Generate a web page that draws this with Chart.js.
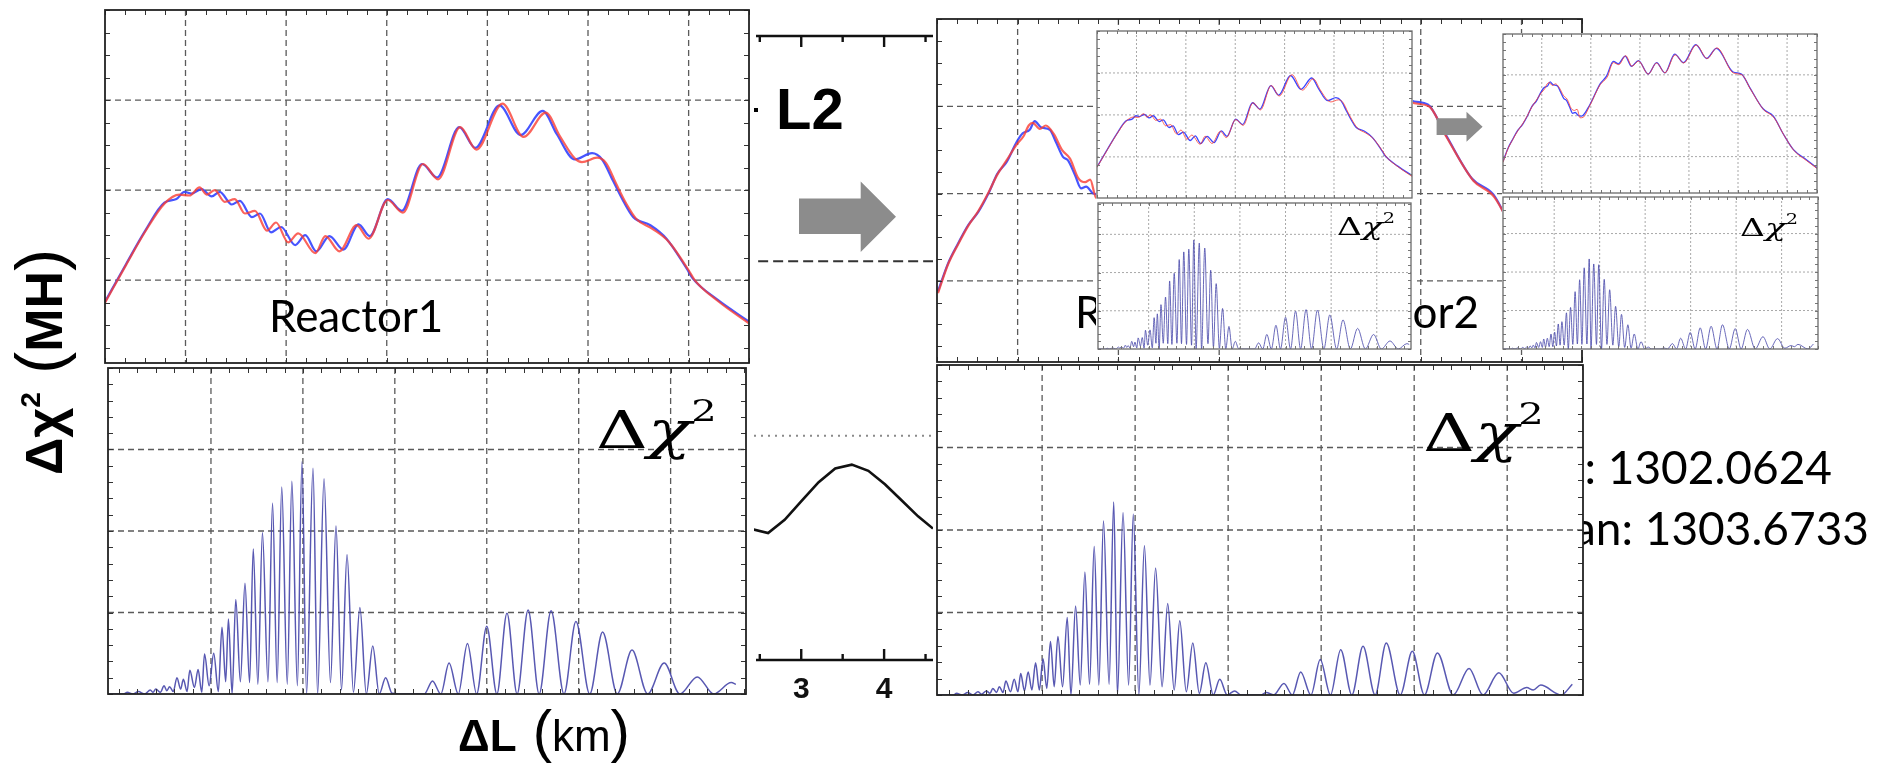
<!DOCTYPE html>
<html>
<head>
<meta charset="utf-8">
<script src="https://cdn.jsdelivr.net/npm/chart.js@4.4.1/dist/chart.umd.min.js"></script>
<style>
  body { margin: 0; background: #fff; }
  #stage { position: relative; width: 1890px; height: 765px; overflow: hidden; background: #fff; }
  canvas.panel { position: absolute; }
  .inset-bg { position: absolute; background: #fff; }
  svg.layer { position: absolute; left: 0; top: 0; width: 1890px; height: 765px; pointer-events: none; }
</style>
</head>
<body>
<div id="stage"></div>
<script>
// Reactor 1 spectra (blue / red hierarchy curves)
const reactor1Blue = [[-0.80,0.76],[-0.59,1.18],[-0.40,1.55],[-0.21,1.86],[-0.09,1.90],[-0.01,1.98],[0.06,1.96],[0.16,2.01],[0.26,1.93],[0.34,1.98],[0.46,1.84],[0.54,1.88],[0.66,1.70],[0.74,1.74],[0.85,1.53],[0.95,1.59],[1.09,1.39],[1.19,1.50],[1.30,1.32],[1.43,1.49],[1.57,1.34],[1.72,1.62],[1.83,1.49],[2.01,1.90],[2.15,1.77],[2.35,2.29],[2.50,2.14],[2.72,2.70],[2.88,2.47],[3.12,2.94],[3.33,2.61],[3.55,2.88],[3.69,2.62],[3.87,2.34],[4.04,2.41],[4.14,2.34],[4.25,2.10],[4.35,1.88],[4.45,1.70],[4.62,1.61],[4.78,1.46],[4.98,1.13],[5.04,1.02],[5.29,0.78],[5.60,0.54]];
const reactor1Red = [[-0.80,0.75],[-0.59,1.17],[-0.40,1.54],[-0.21,1.85],[-0.06,1.95],[0.04,1.94],[0.14,2.03],[0.21,1.95],[0.29,2.00],[0.39,1.87],[0.49,1.90],[0.59,1.74],[0.69,1.77],[0.81,1.55],[0.90,1.64],[1.02,1.42],[1.12,1.52],[1.29,1.30],[1.39,1.49],[1.53,1.32],[1.70,1.61],[1.82,1.46],[2.01,1.89],[2.16,1.75],[2.36,2.29],[2.51,2.12],[2.73,2.70],[2.89,2.45],[3.15,2.96],[3.36,2.59],[3.58,2.86],[3.72,2.60],[3.87,2.35],[3.94,2.31],[4.09,2.36],[4.18,2.30],[4.28,2.07],[4.38,1.85],[4.48,1.68],[4.64,1.57],[4.80,1.43],[5.00,1.11],[5.06,1.00],[5.30,0.76],[5.60,0.52]];

// Reactor 2 spectra
const reactor2Blue = [[-0.79,0.88],[-0.69,1.20],[-0.59,1.43],[-0.49,1.64],[-0.39,1.79],[-0.29,2.00],[-0.20,2.23],[-0.11,2.36],[-0.01,2.59],[0.05,2.69],[0.12,2.73],[0.17,2.83],[0.23,2.76],[0.32,2.73],[0.38,2.59],[0.45,2.42],[0.50,2.38],[0.57,2.21],[0.63,2.06],[0.68,2.08],[0.75,2.00],[0.81,1.99],[0.98,2.27],[1.19,2.78],[1.32,2.97],[1.46,3.33],[1.56,3.27],[1.70,3.46],[1.83,3.21],[1.97,3.35],[2.17,3.02],[2.34,3.30],[2.51,3.05],[2.71,3.51],[2.89,3.30],[3.14,3.74],[3.36,3.40],[3.56,3.65],[3.90,3.07],[4.07,3.02],[4.24,2.69],[4.51,2.17],[4.72,1.99],[4.92,1.56],[5.13,1.17],[5.40,0.92],[5.61,0.72]];
const reactor2Red = [[-0.79,0.86],[-0.69,1.19],[-0.59,1.42],[-0.49,1.63],[-0.39,1.80],[-0.29,2.01],[-0.20,2.22],[-0.11,2.38],[-0.01,2.56],[0.06,2.66],[0.11,2.78],[0.15,2.81],[0.22,2.74],[0.28,2.78],[0.36,2.68],[0.44,2.50],[0.52,2.40],[0.60,2.18],[0.67,2.13],[0.72,2.16],[0.78,1.95],[0.84,1.96],[0.98,2.25],[1.19,2.76],[1.33,2.94],[1.46,3.30],[1.57,3.25],[1.71,3.47],[1.84,3.21],[1.97,3.34],[2.17,3.02],[2.34,3.29],[2.51,3.05],[2.72,3.49],[2.89,3.29],[3.15,3.73],[3.37,3.40],[3.57,3.66],[3.90,3.05],[4.08,3.00],[4.25,2.66],[4.52,2.15],[4.73,1.96],[4.93,1.54],[5.14,1.15],[5.40,0.90],[5.61,0.71]];

// Delta chi^2 versus shift, reactor 1 and reactor 2
const reactor1Dchi = [[-0.12,0.00],[0.05,0.00],[0.09,0.02],[0.15,0.00],[0.21,0.03],[0.28,0.00],[0.34,0.05],[0.37,0.02],[0.40,0.06],[0.45,0.02],[0.49,0.10],[0.52,0.04],[0.55,0.09],[0.59,0.03],[0.63,0.20],[0.67,0.06],[0.70,0.18],[0.74,0.03],[0.77,0.29],[0.82,0.08],[0.86,0.30],[0.90,0.02],[0.93,0.49],[0.98,0.10],[1.03,0.50],[1.08,0.03],[1.12,0.82],[1.16,0.15],[1.19,0.92],[1.23,0.00],[1.27,1.16],[1.32,0.15],[1.37,1.36],[1.42,0.14],[1.46,1.78],[1.51,0.12],[1.56,1.98],[1.62,0.15],[1.67,2.34],[1.72,0.14],[1.77,2.54],[1.83,0.12],[1.88,2.61],[1.94,0.10],[1.99,2.85],[2.04,0.00],[2.11,2.77],[2.16,0.00],[2.23,2.64],[2.30,0.14],[2.36,2.06],[2.42,0.05],[2.48,1.71],[2.55,0.02],[2.62,1.06],[2.69,0.00],[2.76,0.59],[2.83,0.00],[2.90,0.20],[2.97,0.01],[3.10,0.00],[3.32,0.00],[3.41,0.16],[3.50,0.00],[3.59,0.38],[3.69,0.00],[3.79,0.62],[3.89,0.00],[4.00,0.83],[4.11,0.00],[4.22,0.99],[4.33,0.00],[4.45,1.03],[4.57,0.00],[4.70,1.02],[4.84,0.00],[4.97,0.89],[5.12,0.00],[5.26,0.76],[5.42,0.00],[5.58,0.54],[5.75,0.00],[5.93,0.38],[6.10,0.00],[6.29,0.21],[6.47,0.00],[6.66,0.14],[6.71,0.12]];
const reactor2Dchi = [[-0.13,0.00],[0.05,0.00],[0.08,0.02],[0.14,0.00],[0.20,0.03],[0.26,0.00],[0.31,0.04],[0.35,0.01],[0.40,0.05],[0.44,0.02],[0.47,0.08],[0.51,0.03],[0.54,0.10],[0.58,0.03],[0.61,0.17],[0.66,0.04],[0.70,0.19],[0.74,0.04],[0.77,0.26],[0.81,0.05],[0.85,0.28],[0.89,0.06],[0.93,0.39],[0.97,0.06],[1.01,0.44],[1.05,0.08],[1.09,0.65],[1.13,0.10],[1.17,0.71],[1.22,0.10],[1.27,0.94],[1.31,0.00],[1.36,1.08],[1.41,0.12],[1.46,1.49],[1.51,0.13],[1.56,1.80],[1.61,0.12],[1.66,2.11],[1.72,0.13],[1.77,2.34],[1.81,0.00],[1.87,2.21],[1.93,0.12],[1.98,2.19],[2.04,0.00],[2.10,1.81],[2.16,0.12],[2.22,1.54],[2.29,0.10],[2.35,1.11],[2.42,0.06],[2.48,0.90],[2.55,0.04],[2.62,0.63],[2.69,0.02],[2.76,0.39],[2.84,0.00],[2.91,0.19],[2.99,0.00],[3.07,0.05],[3.14,0.00],[3.35,0.00],[3.41,0.03],[3.49,0.00],[3.60,0.14],[3.69,0.00],[3.78,0.28],[3.89,0.00],[3.99,0.43],[4.10,0.00],[4.21,0.55],[4.33,0.00],[4.45,0.59],[4.58,0.00],[4.70,0.63],[4.85,0.00],[4.98,0.53],[5.11,0.00],[5.25,0.51],[5.42,0.00],[5.59,0.32],[5.74,0.00],[5.91,0.27],[6.07,0.02],[6.21,0.09],[6.28,0.06],[6.36,0.12],[6.58,0.00],[6.70,0.13]];

// Middle strip: chi^2 scan around L2 and its reference levels
const midCurveX = [2.42, 2.60, 2.80, 3.01, 3.21, 3.41, 3.61, 3.81, 4.01, 4.21, 4.41, 4.59];
const midCurveY = [4.47, 4.35, 4.80, 5.47, 6.09, 6.56, 6.69, 6.48, 6.02, 5.47, 4.92, 4.50];
const midDottedLevel = 7.68;
const midDashedLevel = 1.22;
const midTicks = [2.5, 3, 3.5, 4, 4.5];
const midTickLabels = [3, 4];

// grid positions
const specGridX = [0, 1, 2, 3, 4, 5];
const specGridY = [1, 2, 3];
const dchiGridX = [1, 2, 3, 4, 5, 6];
const dchiGridY = [1, 2, 3];

const stage = document.getElementById('stage');
const PAD = 4;

const RED = 'rgba(250,60,50,0.8)';
const BLUE = 'rgba(55,70,255,0.92)';
const DCHI = 'rgba(70,70,170,0.9)';

function stepsIn(min, max, step) {
  const out = [];
  for (let v = Math.ceil(min / step - 1e-6) * step; v <= max + 1e-9; v += step) out.push(v);
  return out;
}

// grid under the curves, border + inward minor ticks on top
const framePlugin = {
  id: 'frame',
  beforeDatasetsDraw(chart, args, o) {
    const { ctx, chartArea: a, scales: { x, y } } = chart;
    ctx.save();
    if (o.fill) { ctx.fillStyle = '#fff'; ctx.fillRect(a.left, a.top, a.width, a.height); }
    if (o.xGrid || o.yGrid) {
      ctx.strokeStyle = o.gridColor; ctx.lineWidth = o.gridWidth; ctx.setLineDash(o.gridDash);
      ctx.beginPath();
      (o.xGrid || []).forEach(v => { const p = x.getPixelForValue(v); ctx.moveTo(p, a.top); ctx.lineTo(p, a.bottom); });
      (o.yGrid || []).forEach(v => { const p = y.getPixelForValue(v); ctx.moveTo(a.left, p); ctx.lineTo(a.right, p); });
      ctx.stroke();
    }
    ctx.restore();
  },
  afterDatasetsDraw(chart, args, o) {
    const { ctx, chartArea: a, scales: { x, y } } = chart;
    ctx.save();
    ctx.setLineDash([]);
    if (o.xMinor) {
      ctx.strokeStyle = o.tickColor; ctx.lineWidth = 1;
      ctx.beginPath();
      stepsIn(x.min, x.max, o.xMinor).forEach(v => {
        const p = Math.round(x.getPixelForValue(v)) + 0.5;
        ctx.moveTo(p, a.top); ctx.lineTo(p, a.top + o.tickLen);
        ctx.moveTo(p, a.bottom); ctx.lineTo(p, a.bottom - o.tickLen);
      });
      stepsIn(y.min, y.max, o.yMinor).forEach(v => {
        const p = Math.round(y.getPixelForValue(v)) + 0.5;
        ctx.moveTo(a.left, p); ctx.lineTo(a.left + o.tickLen, p);
        ctx.moveTo(a.right, p); ctx.lineTo(a.right - o.tickLen, p);
      });
      ctx.stroke();
    }
    if (o.border) {
      ctx.strokeStyle = o.border; ctx.lineWidth = o.borderWidth;
      ctx.strokeRect(a.left, a.top, a.width, a.height);
    }
    ctx.restore();
  }
};

// axis strips of the middle chi^2 scan
const stripAxisPlugin = {
  id: 'stripAxis',
  afterDatasetsDraw(chart, args, o) {
    if (!o.side) return;
    const { ctx, chartArea: a, scales: { x } } = chart;
    const yLine = o.side === 'top' ? a.top : a.bottom;
    const dir = o.side === 'top' ? 1 : -1;
    ctx.save();
    ctx.strokeStyle = '#111';
    ctx.beginPath();
    ctx.moveTo(a.left + 2, yLine); ctx.lineTo(a.right, yLine);
    midTicks.forEach(v => {
      const p = x.getPixelForValue(v);
      const len = Number.isInteger(v) ? 11 : 6;
      ctx.moveTo(p, yLine); ctx.lineTo(p, yLine + dir * len);
    });
    ctx.lineWidth = 2.4;
    ctx.stroke();
    if (o.labels) {
      ctx.fillStyle = '#111';
      ctx.font = 'bold 30px "Liberation Sans", Arial, sans-serif';
      ctx.textAlign = 'center'; ctx.textBaseline = 'alphabetic';
      midTickLabels.forEach(v => ctx.fillText(String(v), x.getPixelForValue(v), yLine + 38));
    }
    ctx.restore();
  }
};

function pts(arr) { return arr.map(p => ({ x: p[0], y: p[1] })); }

function panel(cfg) {
  const padB = cfg.padBottom || PAD;
  const c = document.createElement('canvas');
  c.className = 'panel';
  c.width = Math.round(cfg.w + 2 * PAD);
  c.height = Math.round(cfg.h + PAD + padB);
  c.style.left = (cfg.x - PAD) + 'px';
  c.style.top = (cfg.y - PAD) + 'px';
  c.style.width = c.width + 'px';
  c.style.height = c.height + 'px';
  c.style.zIndex = cfg.z;
  stage.appendChild(c);
  new Chart(c.getContext('2d'), {
    type: 'line',
    data: { datasets: cfg.series },
    options: {
      responsive: false,
      animation: false,
      events: [],
      layout: { padding: { left: PAD, right: PAD, top: PAD, bottom: padB } },
      elements: { point: { radius: 0 } },
      plugins: {
        legend: { display: false },
        tooltip: { enabled: false },
        frame: cfg.frame || {},
        stripAxis: cfg.strip || {}
      },
      scales: {
        x: { type: 'linear', display: false, min: cfg.xr[0], max: cfg.xr[1] },
        y: { type: 'linear', display: false, min: cfg.yr[0], max: cfg.yr[1] }
      }
    },
    plugins: [framePlugin, stripAxisPlugin]
  });
}

function spectrum(red, blue, redWidth, blueWidth, blueColor) {
  return [
    { data: pts(red), borderColor: RED, borderWidth: redWidth, cubicInterpolationMode: 'monotone' },
    { data: pts(blue), borderColor: blueColor || BLUE, borderWidth: blueWidth, cubicInterpolationMode: 'monotone' }
  ];
}
function dchi(arr, width) {
  return [{ data: pts(arr), borderColor: DCHI, borderWidth: width, cubicInterpolationMode: 'monotone' }];
}

const mainFrame = (gx, gy, yMinor) => ({
  fill: true, xGrid: gx, yGrid: gy, gridColor: '#5a5a5a', gridWidth: 1.3, gridDash: [6, 4],
  xMinor: 0.2, yMinor: yMinor, tickLen: 5, tickColor: '#333', border: '#222', borderWidth: 1.8
});
const insetFrame = (gx, gy) => ({
  fill: true, xGrid: gx, yGrid: gy, gridColor: '#a8a8a8', gridWidth: 1, gridDash: [2, 2],
  xMinor: 0.2, yMinor: 0.2, tickLen: 3, tickColor: '#777', border: '#6a6a6a', borderWidth: 1.3
});

// left column
panel({ x: 105, y: 10, w: 644, h: 353, z: 1, xr: [-0.80, 5.60], yr: [0.08, 4.0],
  series: spectrum(reactor1Red, reactor1Blue, 2.2, 2.2), frame: mainFrame(specGridX, specGridY, 0.25) });
panel({ x: 108, y: 368, w: 638, h: 326, z: 1, xr: [-0.12, 6.82], yr: [0, 4],
  series: dchi(reactor1Dchi, 1.5), frame: mainFrame(dchiGridX, dchiGridY, 0.2) });

// middle strip
panel({ x: 754, y: 36, w: 179, h: 324, z: 1, xr: [2.43, 4.59], yr: [0, 4],
  series: [{ data: [{ x: 2.48, y: midDashedLevel }, { x: 4.59, y: midDashedLevel }], borderColor: '#333', borderWidth: 2, borderDash: [10, 5] }],
  strip: { side: 'top' } });
panel({ x: 754, y: 368, w: 179, h: 291.5, z: 1, padBottom: 48, xr: [2.43, 4.59], yr: [0, 10],
  series: [
    { data: [{ x: 2.43, y: midDottedLevel }, { x: 4.59, y: midDottedLevel }], borderColor: '#8a8a8a', borderWidth: 2, borderDash: [2, 5] },
    { data: midCurveX.map((v, i) => ({ x: v, y: midCurveY[i] })), borderColor: '#111', borderWidth: 2.6, tension: 0 }
  ],
  strip: { side: 'bottom', labels: true } });

// right column
panel({ x: 937, y: 19, w: 645, h: 343, z: 1, xr: [-0.80, 5.60], yr: [0.07, 4.0],
  series: spectrum(reactor2Red, reactor2Blue, 2.2, 2.2), frame: mainFrame(specGridX, specGridY, 0.25) });

// serif "Δχ²" label, stretched horizontally like the math font
function dchiLabel(x, y, size, twoDy) {
  return `<text transform="translate(${x},${y}) scale(1.38,1)" font-family="'DejaVu Serif', serif" font-size="${size}" fill="#000">` +
    `Δ<tspan font-style="italic">χ</tspan>` +
    `<tspan dy="${twoDy}" font-size="${Math.round(size * 0.56)}">2</tspan></text>`;
}

const svgA = document.createElementNS('http://www.w3.org/2000/svg', 'svg');
svgA.setAttribute('class', 'layer');
svgA.style.zIndex = 2;
svgA.innerHTML = `
  <text x="269" y="332" font-family="Lato, 'Open Sans', sans-serif" font-size="44" fill="#000">Reactor1</text>
  <text x="1075" y="328" font-family="Lato, 'Open Sans', sans-serif" font-size="44" fill="#000">Reactor1 +</text>
  <text x="1479" y="328" text-anchor="end" font-family="Lato, 'Open Sans', sans-serif" font-size="44" fill="#000">Reactor2</text>
  <text x="1832" y="484" text-anchor="end" font-family="Lato, 'Open Sans', sans-serif" font-size="46" fill="#000">Best: 1302.0624</text>
  <text x="1869" y="545" text-anchor="end" font-family="Lato, 'Open Sans', sans-serif" font-size="46" fill="#000">Mean: 1303.6733</text>
  <rect x="754" y="108" width="4" height="4" fill="#000"/>
  <text x="776" y="129" font-family="'Liberation Sans', Arial, sans-serif" font-weight="bold" font-size="58" fill="#000">L2</text>
  <polygon points="799,198.5 860.7,198.5 860.7,181.5 896,216.8 860.7,252 860.7,234 799,234" fill="#8c8c8c"/>
  ${dchiLabel(596, 448, 52, -27)}
  <text x="458" y="751" font-family="'Liberation Sans', Arial, sans-serif" fill="#000"><tspan font-weight="bold" font-size="44">ΔL</tspan><tspan font-size="58"> (</tspan><tspan font-size="44">km</tspan><tspan font-size="58">)</tspan></text>
  <text transform="translate(62,362) rotate(-90)" text-anchor="middle" font-family="'Liberation Sans', Arial, sans-serif" fill="#000"><tspan font-weight="bold" font-size="52">Δχ</tspan><tspan font-weight="bold" font-size="28" dy="-22">2</tspan><tspan font-size="66" dy="22"> (</tspan><tspan font-weight="bold" font-size="52">MH</tspan><tspan font-size="66">)</tspan></text>
`;
stage.appendChild(svgA);

panel({ x: 937, y: 365, w: 646, h: 330, z: 3, xr: [-0.13, 6.815], yr: [0, 4],
  series: dchi(reactor2Dchi, 1.5), frame: mainFrame(dchiGridX, dchiGridY, 0.2) });

// insets
function insetBg(x, y, w, h) {
  const d = document.createElement('div');
  d.className = 'inset-bg';
  Object.assign(d.style, { left: x + 'px', top: y + 'px', width: w + 'px', height: h + 'px', zIndex: 5 });
  stage.appendChild(d);
}
insetBg(1096, 30, 317, 320);
insetBg(1502, 33, 317, 317);

const INSET_BLUE = 'rgba(60,70,255,1)';
panel({ x: 1097, y: 31, w: 315, h: 167, z: 5, xr: [-0.80, 5.58], yr: [0.02, 4.0],
  series: spectrum(reactor1Red, reactor1Blue, 1.0, 1.3, INSET_BLUE), frame: insetFrame(specGridX, specGridY) });
panel({ x: 1098, y: 203, w: 313, h: 146, z: 5, xr: [-0.11, 6.75], yr: [0, 3.82],
  series: dchi(reactor1Dchi, 0.9), frame: insetFrame(dchiGridX, dchiGridY) });
panel({ x: 1503, y: 34, w: 314, h: 159, z: 5, xr: [-0.79, 5.61], yr: [0.11, 4.0],
  series: spectrum(reactor2Red, reactor2Blue, 1.0, 1.3, INSET_BLUE), frame: insetFrame(specGridX, specGridY) });
panel({ x: 1503, y: 197, w: 315, h: 152, z: 5, xr: [-0.125, 6.80], yr: [0, 3.95],
  series: dchi(reactor2Dchi, 0.9), frame: insetFrame(dchiGridX, dchiGridY) });

const svgB = document.createElementNS('http://www.w3.org/2000/svg', 'svg');
svgB.setAttribute('class', 'layer');
svgB.style.zIndex = 6;
svgB.innerHTML = `
  ${dchiLabel(1423, 451, 52, -27)}
  ${dchiLabel(1337, 235, 25, -12)}
  ${dchiLabel(1740, 236, 25, -12)}
  <polygon points="1436.6,118.3 1466.5,118.3 1466.5,111.7 1482.6,126.7 1466.5,141.7 1466.5,135 1436.6,135" fill="#8c8c8c"/>
`;
stage.appendChild(svgB);
</script>
</body>
</html>
